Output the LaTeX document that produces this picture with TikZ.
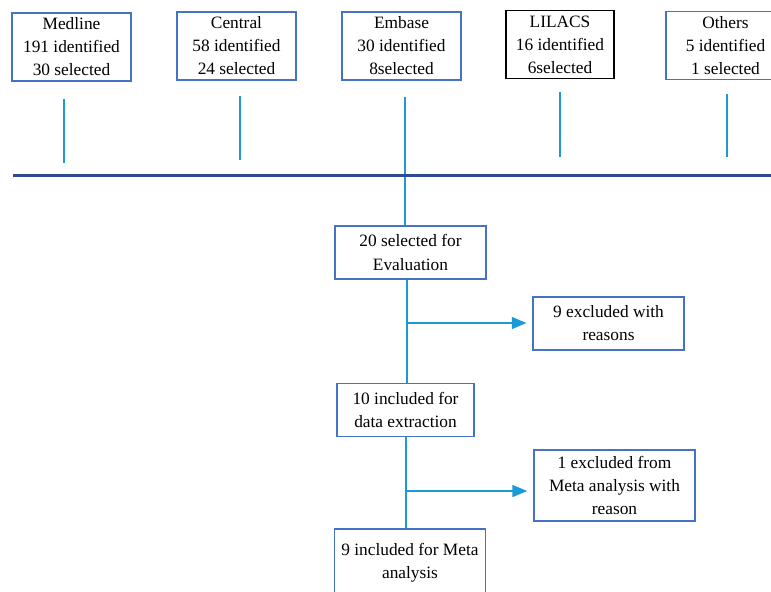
\documentclass[tikz,border=0pt]{standalone}
\usepackage{fontspec}
\setmainfont{Liberation Serif}
\usepackage{tikz}
\usetikzlibrary{arrows.meta}
\usepackage{xcolor}
\definecolor{boxblue}{HTML}{4472C4}
\definecolor{linkblue}{HTML}{1C9AD6}
\definecolor{barblue}{HTML}{2F4B8F}
\tikzstyle{source}=[rectangle, draw=boxblue, line width=1.1pt, text centered, align=center,
inner sep=1pt, minimum width=89pt, minimum height=51pt, font=\fontsize{13}{17.3}\selectfont]
\tikzstyle{stage}=[source, minimum width=113pt, minimum height=40pt]
\tikzstyle{link}=[draw=linkblue, line width=1.1pt]
\tikzstyle{excl}=[link, -{Triangle[length=11pt,width=9pt]}, shorten >=4.5pt]

\begin{document}
\begin{tikzpicture}[x=0.75pt, y=-0.75pt]
            \useasboundingbox (0,0) rectangle (771,592);
            \clip (0,0) rectangle (771,592);
            % sources
            \node (1)[source] at (71.5,47) {Medline\\191 identified\\30 selected};
            \node (2)[source] at (236.5,46) {Central\\58 identified\\24 selected};
            \node (3)[source] at (401.5,46) {Embase\\30 identified\\8selected};
            \node (4)[source, draw=black, minimum width=81pt] at (560,44.5) {LILACS\\16 identified\\6selected};
            \node (5)[source] at (725.5,45.5) {Others\\5 identified\\1 selected};
            % stages
            \node (6)[stage] at (410.5,252.5) {20 selected for\\Evaluation};
            \node (7)[stage] at (608.5,323.5) {9 excluded with\\reasons};
            \node (8)[stage, minimum width=103pt] at (405.5,410) {10 included for\\data extraction};
            \node (9)[stage, minimum width=121pt, minimum height=53pt] at (614.5,485.5) {1 excluded from\\Meta analysis with\\reason};
            \node (10)[stage, minimum height=51pt] at (410,563) {9 included for Meta\\analysis};
            % line ends
            \coordinate (a1) at (64,99);  \coordinate (b1) at (64,163);
            \coordinate (a2) at (240,96); \coordinate (b2) at (240,160);
            \coordinate (a3) at (405,97);
            \coordinate (a4) at (560,92); \coordinate (b4) at (560,157);
            \coordinate (a5) at (727,94); \coordinate (b5) at (727,157);
            \coordinate (l) at (13,175.5); \coordinate (r) at (771,175.5);
            \coordinate (j1) at (407,323);
            \coordinate (j2) at (406,491);
            \draw [link] (a1) -- (b1);
            \draw [link] (a2) -- (b2);
            \draw [link] (a4) -- (b4);
            \draw [link] (a5) -- (b5);
            \draw [link] (a3) -- (a3 |- 6.north);
            \draw [draw=barblue, line width=2.4pt] (l) -- (r);
            \draw [link] (6.south -| j1) -- (j1 |- 8.north);
            \draw [link] (8.south -| j2) -- (j2 |- 10.north);
            \draw [excl] (j1) -- (j1 -| 7.west);
            \draw [excl] (j2) -- (j2 -| 9.west);
        \end{tikzpicture}
\end{document}
